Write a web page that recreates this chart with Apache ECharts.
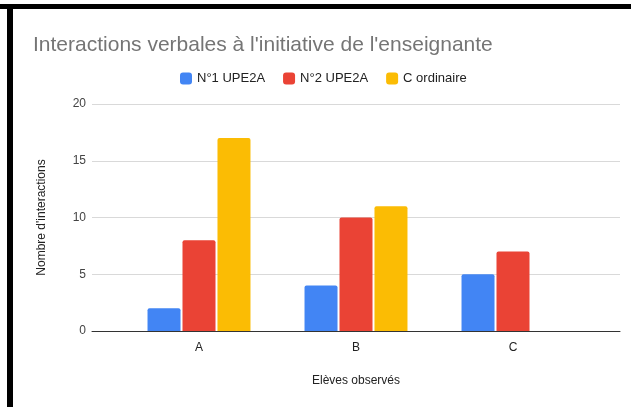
<!DOCTYPE html>
<html>
<head>
<meta charset="utf-8">
<script src="https://cdn.jsdelivr.net/npm/echarts@6/dist/echarts.min.js"></script>
<style>
  html, body { margin: 0; padding: 0; background: #fff; }
  #main { width: 631px; height: 407px; }
</style>
</head>
<body>
<div id="main"></div>
<script>
var categories = ['A', 'B', 'C'];
var seriesNames = ['N°1 UPE2A', 'N°2 UPE2A', 'C ordinaire'];
var upe1 = [2, 4, 5];
var upe2 = [8, 10, 7];
var ordinaire = [17, 11, 0];
var colors = ['#4285F4', '#EA4335', '#FBBC04'];

var myChart = echarts.init(document.getElementById('main'));
var font = 'Arial, "Liberation Sans", sans-serif';

function barSeries(name, data, color) {
    return {
        name: name,
        type: 'bar',
        xAxisIndex: 1,
        yAxisIndex: 1,
        data: data,
        barWidth: 33,
        barGap: '6%',
        itemStyle: {color: color, borderRadius: [2, 2, 0, 0]},
        emphasis: {disabled: true}
    };
}

var option = {
    animation: false,
    textStyle: {fontFamily: font},
    title: {
        text: "Interactions verbales à l'initiative de l'enseignante",
        left: 28,
        top: 30,
        textStyle: {fontSize: 21, fontWeight: 'normal', color: '#757575', fontFamily: font}
    },
    legend: {
        data: seriesNames,
        left: 175,
        top: 67,
        itemWidth: 12,
        itemHeight: 12,
        itemGap: 18,
        icon: 'roundRect',
        textStyle: {fontSize: 13, color: '#222', fontFamily: font}
    },
    grid: [
        {left: 92, right: 11, top: 104, bottom: 76},
        {left: 120.5, right: 39.5, top: 104, bottom: 76}
    ],
    xAxis: [
        {
            type: 'category',
            gridIndex: 0,
            data: categories,
            axisLine: {lineStyle: {color: '#333', width: 1}},
            axisTick: {show: false},
            axisLabel: {show: false},
            name: 'Elèves observés',
            nameLocation: 'middle',
            nameGap: 44,
            nameTextStyle: {fontSize: 12, color: '#222', fontFamily: font}
        },
        {
            type: 'category',
            gridIndex: 1,
            data: categories,
            axisLine: {show: false},
            axisTick: {show: false},
            axisLabel: {fontSize: 12, color: '#222', margin: 11, fontFamily: font}
        }
    ],
    yAxis: [
        {
            type: 'value',
            gridIndex: 0,
            min: 0,
            max: 20,
            interval: 5,
            axisLine: {show: false},
            axisTick: {show: false},
            axisLabel: {fontSize: 12, color: '#444', margin: 6, fontFamily: font},
            splitLine: {lineStyle: {color: '#d9d9d9', width: 1}},
            name: "Nombre d'interactions",
            nameLocation: 'middle',
            nameGap: 44,
            nameTextStyle: {fontSize: 12, color: '#222', fontFamily: font}
        },
        {
            type: 'value',
            gridIndex: 1,
            min: 0,
            max: 20,
            interval: 5,
            show: false,
            splitLine: {show: false}
        }
    ],
    graphic: [
        {type: 'rect', shape: {x: 0, y: 4, width: 631, height: 5}, style: {fill: '#000'}, z: 100},
        {type: 'rect', shape: {x: 7, y: 4, width: 6, height: 403}, style: {fill: '#000'}, z: 100}
    ],
    series: [
        barSeries(seriesNames[0], upe1, colors[0]),
        barSeries(seriesNames[1], upe2, colors[1]),
        barSeries(seriesNames[2], ordinaire, colors[2])
    ]
};
myChart.setOption(option);
</script>
</body>
</html>
